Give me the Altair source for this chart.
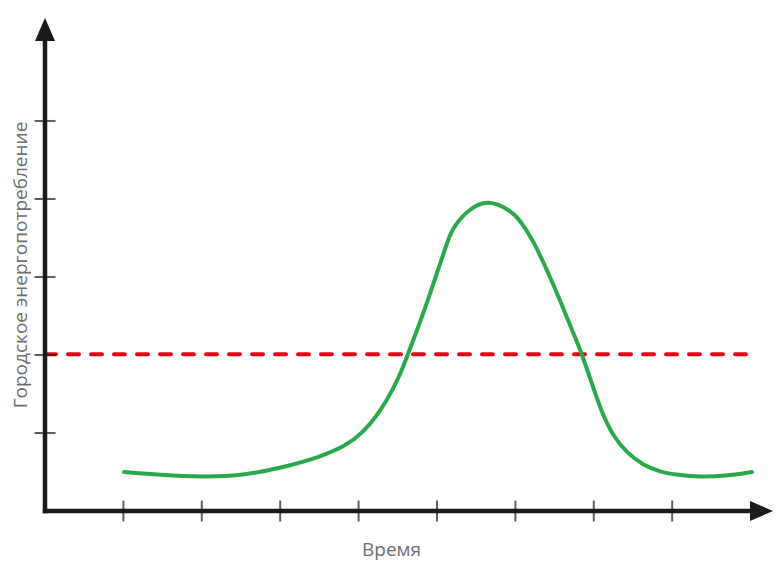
import altair as alt
import pandas as pd

# curve (time units, consumption units)
curve_t = [1.008, 1.467, 2.015, 2.487, 3.010, 3.508, 3.827, 4.056, 4.273, 4.439,
           4.554, 4.617, 4.758, 4.885, 5.013, 5.140, 5.204, 5.421, 5.651, 5.931,
           6.059, 6.224, 6.403, 6.569, 6.722, 6.850, 7.015, 7.117, 7.245, 7.423,
           7.628, 7.844, 8.074, 8.355, 8.673, 9.018]
curve_v = [0.500, 0.462, 0.436, 0.449, 0.551, 0.692, 0.830, 1.000, 1.270, 1.560,
           1.808, 1.980, 2.350, 2.705, 3.090, 3.474, 3.640, 3.885, 3.990, 3.859,
           3.730, 3.474, 3.090, 2.705, 2.321, 2.013, 1.513, 1.231, 0.962, 0.744,
           0.590, 0.500, 0.462, 0.436, 0.449, 0.500]

threshold_v = 2.01
threshold_t = [0.0, 9.018]

x_ticks = [1, 2, 3, 4, 5, 6, 7, 8]
y_ticks = [1, 2, 3, 4, 5]

x_max = 9.286
y_max = 6.32

x_title = "Время"
y_title = "Городское энергопотребление"

FONT = "Open Sans"
GRAY = "#6e6e6e"
AXIS = "#1b1b1b"

curve_df = pd.DataFrame({"t": curve_t, "v": curve_v})
thr_df = pd.DataFrame({"t": [threshold_t[0]], "t2": [threshold_t[1]], "v": [threshold_v]})
xt_df = pd.DataFrame({"t": x_ticks, "v": [0] * len(x_ticks)})
yt_df = pd.DataFrame({"t": [0] * len(y_ticks), "v": y_ticks})
axes_df = pd.DataFrame({"t": [0, 0], "t2": [0, x_max - 0.2], "v": [0, 0], "v2": [y_max - 0.2, 0]})
arrow_up_df = pd.DataFrame({"t": [0], "v": [y_max]})
arrow_right_df = pd.DataFrame({"t": [x_max], "v": [0]})

X = alt.X("t:Q", scale=alt.Scale(domain=[0, x_max], nice=False, zero=True),
          axis=alt.Axis(title=x_title, titleX=346))
Y = alt.Y("v:Q", scale=alt.Scale(domain=[0, y_max], nice=False, zero=True),
          axis=alt.Axis(title=y_title))

curve = alt.Chart(curve_df).mark_line(
    color="#2ba84a", strokeWidth=4, interpolate="basis", strokeCap="round"
).encode(x=X, y=Y)

thr = alt.Chart(thr_df).mark_rule(
    color="#e30613", strokeWidth=4, strokeDash=[11, 12], strokeCap="round"
).encode(x=X, x2="t2:Q", y=Y)

axes = alt.Chart(axes_df).mark_rule(
    color=AXIS, strokeWidth=4.5, strokeCap="square"
).encode(x=X, x2="t2:Q", y=Y, y2="v2:Q")

xticks = alt.Chart(xt_df).mark_tick(
    orient="vertical", color=AXIS, size=21, thickness=2
).encode(x=X, y=Y)

yticks = alt.Chart(yt_df).mark_tick(
    orient="horizontal", color=AXIS, size=21, thickness=2
).encode(x=X, y=Y)

arrow_up = alt.Chart(arrow_up_df).mark_point(
    shape="M0,0L-0.87,2L0.87,2Z", filled=True, size=529, color=AXIS, opacity=1
).encode(x=X, y=Y)

arrow_right = alt.Chart(arrow_right_df).mark_point(
    shape="M0,0L-2,-0.87L-2,0.87Z", filled=True, size=529, color=AXIS, opacity=1
).encode(x=X, y=Y)

chart = alt.layer(thr, curve, axes, xticks, yticks, arrow_up, arrow_right).properties(
    width=728, height=493,
    autosize=alt.AutoSizeParams(type="none"),
    padding={"left": 37, "top": 10, "right": 0, "bottom": 50},
).configure_axis(
    domain=False, ticks=False, labels=False, grid=False,
    titleFont=FONT, titleFontSize=19, titleFontWeight="normal", titleColor=GRAY,
).configure_axisX(titlePadding=29).configure_axisY(titlePadding=15).configure_view(stroke=None)

chart.save("out.html", embed_options={"renderer": "svg", "actions": False})
